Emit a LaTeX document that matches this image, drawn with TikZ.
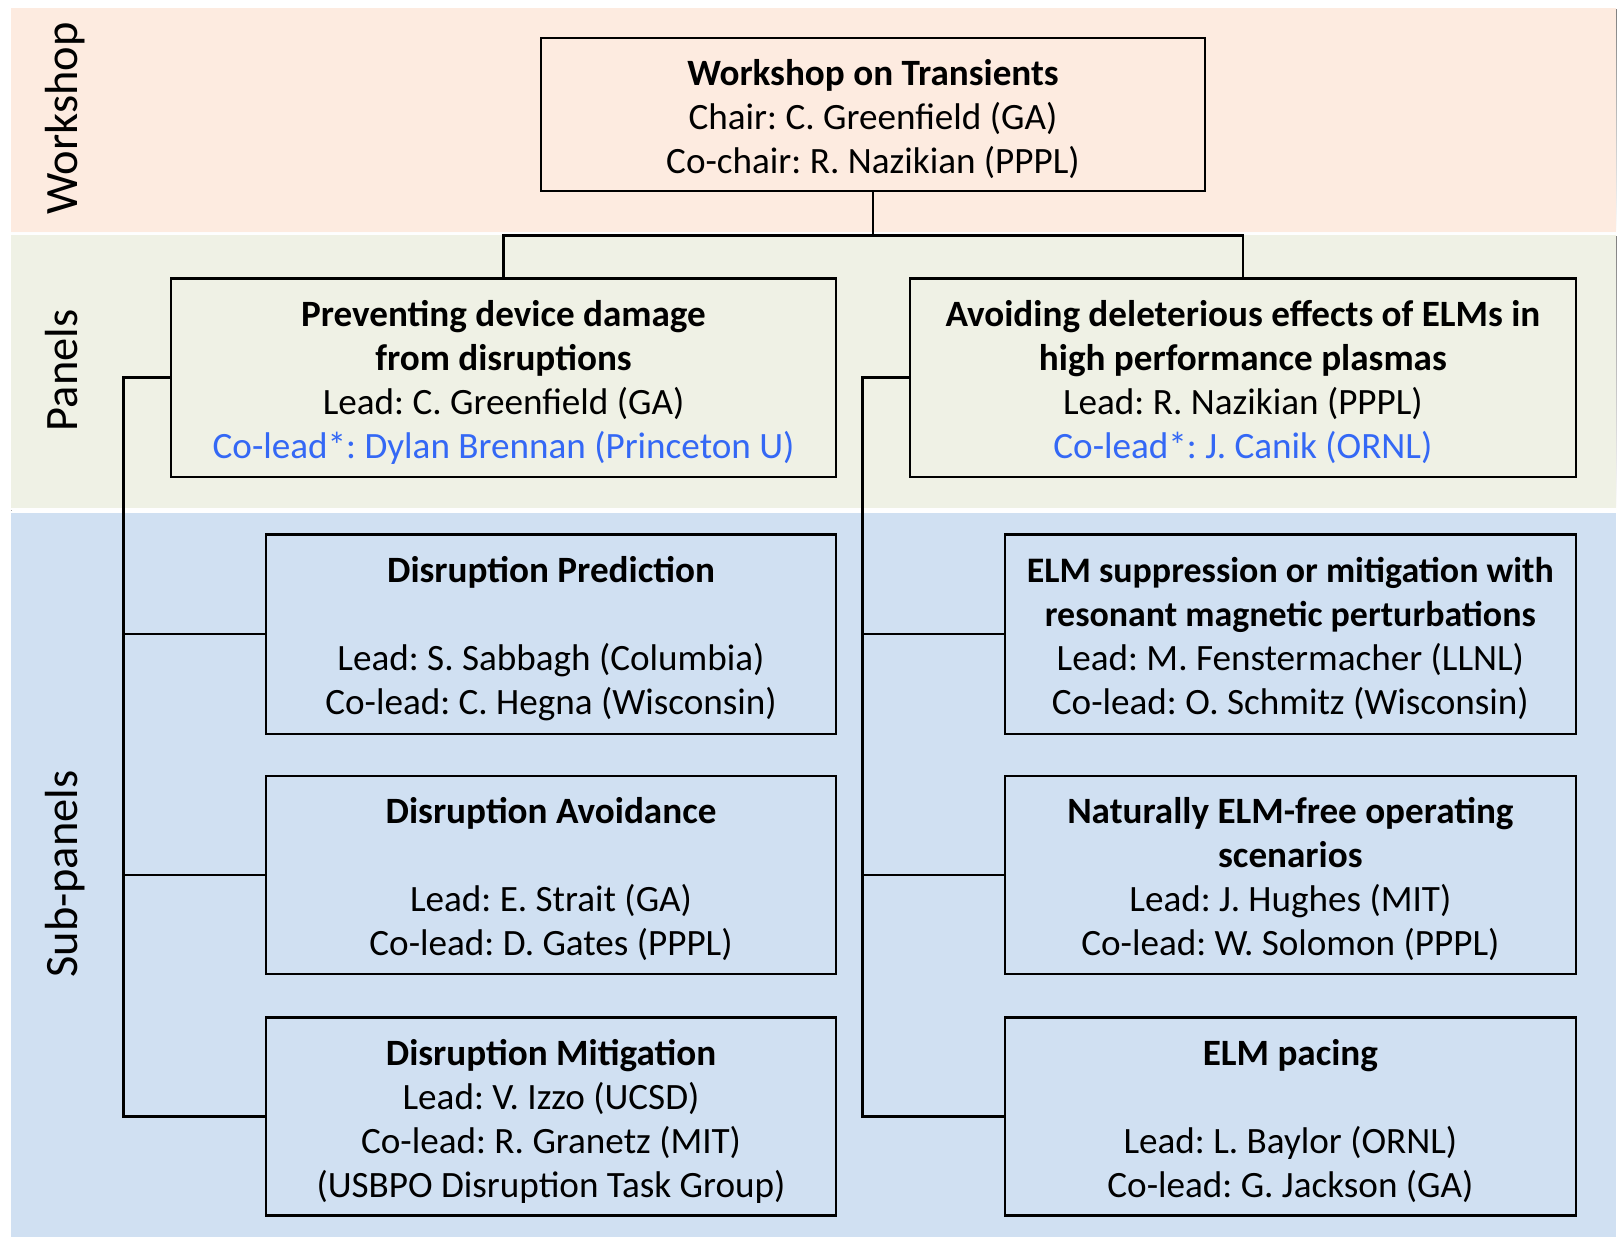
\documentclass[tikz,border=0pt]{standalone}
\usepackage{fontspec}
\setmainfont{Carlito}
\frenchspacing
\definecolor{wsband}{RGB}{253,235,224}
\definecolor{pnband}{RGB}{239,241,229}
\definecolor{spband}{RGB}{208,224,242}
\definecolor{colead}{RGB}{52,104,245}
\definecolor{shade}{RGB}{175,175,175}
\tikzset{
  box/.style={draw=black, line width=2.2pt, inner sep=0pt},
  txt/.style={inner sep=0pt, align=center, font=\frenchspacing\fontsize{36}{42.7}\selectfont},
  conn/.style={draw=black, line width=2.6pt},
  bandlabel/.style={rotate=90, anchor=base, font=\fontsize{45}{50}\selectfont}
}
\begin{document}
\begin{tikzpicture}[x=1pt,y=-1pt]
\path[use as bounding box] (0,0) rectangle (1568,1199);
% bands
\fill[shade] (11,9) rectangle (1567,228);
\fill[wsband] (11,8) rectangle (1566,225);
\fill[shade] (11,229) rectangle (1567,495);
\fill[pnband] (11,228) rectangle (1566,492);
\fill[spband] (11,497) rectangle (1566,1199);
% band labels
\node[bandlabel] (lw) at (75,115) {Workshop};
\node[bandlabel] (lp) at (75,359) {Panels};
\node[bandlabel] (ls) at (75,847) {Sub-panels};
% boxes
\node[box, minimum width=644pt, minimum height=148pt] (ws) at (846,111) {};
\node[box, minimum width=644pt, minimum height=192pt] (pL) at (488,366) {};
\node[box, minimum width=645pt, minimum height=192pt] (pR) at (1204.5,366) {};
\node[box, minimum width=552pt, minimum height=193pt] (sL1) at (534,614.5) {};
\node[box, minimum width=552pt, minimum height=192pt] (sL2) at (534,848) {};
\node[box, minimum width=552pt, minimum height=192pt] (sL3) at (534,1082) {};
\node[box, minimum width=553pt, minimum height=193pt] (sR1) at (1250.5,614.5) {};
\node[box, minimum width=553pt, minimum height=192pt] (sR2) at (1250.5,848) {};
\node[box, minimum width=553pt, minimum height=192pt] (sR3) at (1250.5,1082) {};
% box texts
\node[txt] (wsT) at ([yshift=-4.5pt]ws.center)
  {\textbf{Workshop on Transients}\\Chair: C. Greenfield (GA)\\Co-chair: R. Nazikian (PPPL)};
\node[txt] (pLT) at ([yshift=-4.5pt]pL.center)
  {\textbf{Preventing device damage}\\\textbf{from disruptions}\\Lead: C. Greenfield (GA)\\\textcolor{colead}{Co-lead*: Dylan Brennan (Princeton U)}};
\node[txt] (pRT) at ([yshift=-4.5pt]pR.center)
  {\textbf{Avoiding deleterious effects of ELMs in}\\\textbf{high performance plasmas}\\Lead: R. Nazikian (PPPL)\\\textcolor{colead}{Co-lead*: J. Canik (ORNL)}};
\node[txt] (sL1T) at ([yshift=-4pt]sL1.center)
  {\textbf{Disruption Prediction}\\[42.7pt]Lead: S. Sabbagh (Columbia)\\Co-lead: C. Hegna (Wisconsin)};
\node[txt] (sL2T) at ([yshift=-4pt]sL2.center)
  {\textbf{Disruption Avoidance}\\[42.7pt]Lead: E. Strait (GA)\\Co-lead: D. Gates (PPPL)};
\node[txt] (sL3T) at ([yshift=-4.5pt]sL3.center)
  {\textbf{Disruption Mitigation}\\Lead: V. Izzo (UCSD)\\Co-lead: R. Granetz (MIT)\\(USBPO Disruption Task Group)};
\node[txt] (sR1T) at ([yshift=-4pt]sR1.center)
  {{\fontsize{34.8}{42.7}\selectfont\textbf{ELM suppression or mitigation with}}\\{\fontsize{34.8}{42.7}\selectfont\textbf{resonant magnetic perturbations}}\\Lead: M. Fenstermacher (LLNL)\\Co-lead: O. Schmitz (Wisconsin)};
\node[txt] (sR2T) at ([yshift=-4pt]sR2.center)
  {\textbf{Naturally ELM-free operating}\\\textbf{scenarios}\\Lead: J. Hughes (MIT)\\Co-lead: W. Solomon (PPPL)};
\node[txt] (sR3T) at ([yshift=-4.5pt]sR3.center)
  {\textbf{ELM pacing}\\[42.7pt]Lead: L. Baylor (ORNL)\\Co-lead: G. Jackson (GA)};
% connectors
\coordinate (jn) at (846,228);
\draw[conn] (ws.south) -- (jn);
\draw[conn] (jn) -| (pL.north);
\draw[conn] (jn) -| (pR.north);
\coordinate (tL) at (120,366);
\coordinate (tR) at (836,366);
\draw[conn] (pL.west) -- (tL) |- (sL3.west);
\draw[conn] (sL1.west) -- (sL1.west -| tL);
\draw[conn] (sL2.west) -- (sL2.west -| tL);
\draw[conn] (pR.west) -- (tR) |- (sR3.west);
\draw[conn] (sR1.west) -- (sR1.west -| tR);
\draw[conn] (sR2.west) -- (sR2.west -| tR);
\end{tikzpicture}
\end{document}
